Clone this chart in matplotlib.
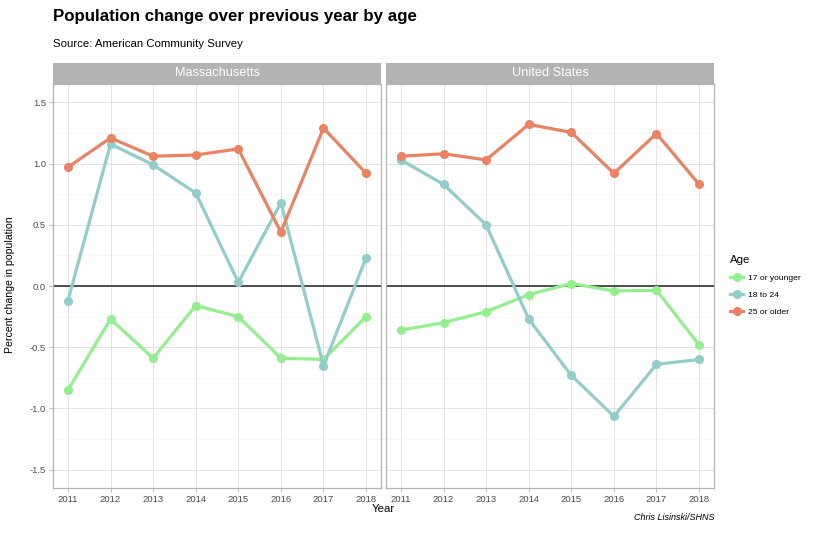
import matplotlib
matplotlib.use('Agg')
import matplotlib.pyplot as plt
from matplotlib.patches import Rectangle
from matplotlib.lines import Line2D
import numpy as np

plt.rcParams['font.family'] = ['Liberation Sans', 'DejaVu Sans']

years = [2011, 2012, 2013, 2014, 2015, 2016, 2017, 2018]
groups = ['17 or younger', '18 to 24', '25 or older']
colors = ['#93EF8E', '#92CDC9', '#EB8262']

ma_young = [-0.85, -0.27, -0.59, -0.16, -0.25, -0.59, -0.60, -0.25]
ma_mid = [-0.12, 1.16, 0.99, 0.76, 0.03, 0.68, -0.65, 0.23]
ma_old = [0.97, 1.21, 1.06, 1.07, 1.12, 0.44, 1.29, 0.92]

us_young = [-0.36, -0.30, -0.21, -0.07, 0.02, -0.04, -0.035, -0.48]
us_mid = [1.03, 0.83, 0.50, -0.27, -0.73, -1.065, -0.64, -0.60]
us_old = [1.06, 1.08, 1.03, 1.32, 1.255, 0.92, 1.245, 0.83]

panels = [('Massachusetts', [ma_young, ma_mid, ma_old]),
          ('United States', [us_young, us_mid, us_old])]

W, H = 813, 542
fig = plt.figure(figsize=(W / 100, H / 100), dpi=100)

grey70 = '#B3B3B3'
lefts = [53, 386]
pw = 328
ptop, pbot = 84, 488

def fx(px):
    return px / W

def fy(py):
    return 1 - py / H

for i, (name, series) in enumerate(panels):
    ax = fig.add_axes([fx(lefts[i]), fy(pbot), pw / W, (pbot - ptop) / H])
    ax.set_xlim(2011 - 0.35, 2018 + 0.35)
    ax.set_ylim(-1.65, 1.65)
    ax.set_yticks([-1.5, -1.0, -0.5, 0.0, 0.5, 1.0, 1.5])
    ax.set_yticks([-1.25, -0.75, -0.25, 0.25, 0.75, 1.25], minor=True)
    ax.set_xticks(years)
    ax.grid(which='major', color='#DEDEDE', linewidth=0.6)
    ax.grid(which='minor', axis='y', color='#EFEFEF', linewidth=0.4)
    ax.set_axisbelow(True)
    for s in ax.spines.values():
        s.set_color(grey70)
        s.set_linewidth(0.9)
    ax.tick_params(which='major', color=grey70, length=3, width=0.6,
                   labelsize=6.8, labelcolor='#4D4D4D', pad=2)
    ax.tick_params(which='minor', length=0)
    if i == 0:
        ax.set_yticklabels(['-1.5', '-1.0', '-0.5', '0.0', '0.5', '1.0', '1.5'])
    else:
        ax.tick_params(axis='y', which='major', length=0, labelleft=False)
    ax.axhline(0, color='#222222', linewidth=1.1, zorder=1)
    for vals, c in zip(series, colors):
        ax.plot(years, vals, color=c, linewidth=2.3, marker='o', markersize=5.5,
                zorder=3, solid_capstyle='round')
    # strip
    strip = Rectangle((fx(lefts[i]), fy(ptop)), pw / W, 21 / H,
                      transform=fig.transFigure, facecolor=grey70,
                      edgecolor='none', zorder=2)
    fig.add_artist(strip)
    fig.text(fx(lefts[i] + pw / 2), fy(ptop - 10.5), name, color='white',
             fontsize=9.2, ha='center', va='center', zorder=5)

fig.text(fx(53), fy(17), 'Population change over previous year by age',
         fontsize=12.2, fontweight='bold', ha='left', va='center')
fig.text(fx(53), fy(44), 'Source: American Community Survey',
         fontsize=8.2, ha='left', va='center')
fig.text(fx(10), fy(285), 'Percent change in population', rotation=90,
         fontsize=7.6, ha='center', va='center')
fig.text(fx(383), fy(509), 'Year', fontsize=8.2, ha='center', va='center')
fig.text(fx(714), fy(518), 'Chris Lisinski/SHNS', fontsize=6.5,
         style='italic', ha='right', va='center')

handles = [Line2D([0], [0], color=c, linewidth=2.3, marker='o', markersize=5.5)
           for c in colors]
leg = fig.legend(handles, groups, title='Age', loc='upper left',
                 bbox_to_anchor=(fx(727), fy(252)), frameon=False,
                 fontsize=6.1, title_fontsize=8.2, handlelength=1.5,
                 handletextpad=0.6, labelspacing=1.05, borderaxespad=0)
leg._legend_box.align = 'left'

fig.savefig('out.png', dpi=100)
